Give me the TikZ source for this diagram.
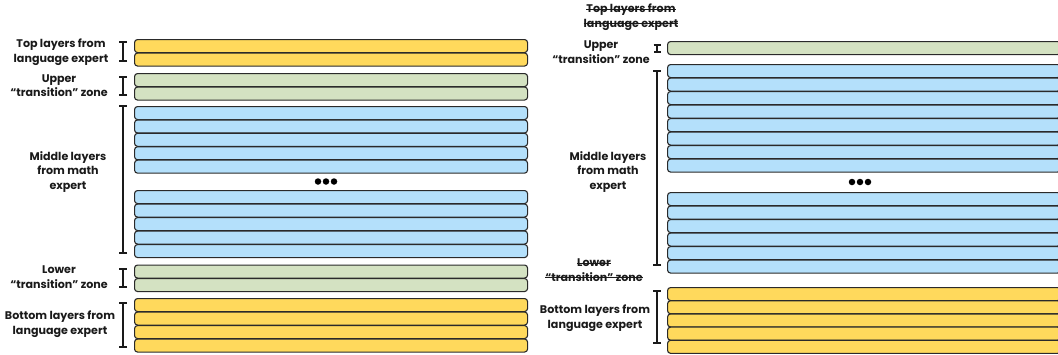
\documentclass[tikz,border=0pt]{standalone}
\usepackage{fontspec}
\setmainfont{Poppins}
\newcommand\strk[1]{\setbox0\hbox{#1}\rlap{\rule[0.24em]{\wd0}{1.3pt}}\box0}
\usetikzlibrary{arrows.meta}
\definecolor{ylw}{HTML}{FFD95C}
\definecolor{grn}{HTML}{D4E2C2}
\definecolor{blu}{HTML}{B4E0FB}
\definecolor{edgec}{HTML}{2A2A2A}
\definecolor{ink}{HTML}{1A1A1A}
\tikzset{
  layerbar/.style={draw=edgec, line width=1.1pt, rounded corners=3pt, inner sep=0pt,
    minimum width=393pt, minimum height=13pt, anchor=north west},
  lbl/.style={font=\bfseries\fontsize{11.1}{14.5}\selectfont, align=center, text=ink, inner sep=0pt},
  brk/.style={draw=ink, line width=1.7pt, {Bar[width=8pt,line width=1.7pt]}-{Bar[width=8pt,line width=1.7pt]}},
  smallbrk/.style={draw=ink, line width=1.7pt, {Bar[width=7pt,line width=1.7pt]}-{Bar[width=7pt,line width=1.7pt]}},
  dotn/.style={circle, fill=black, inner sep=0pt, minimum size=6.5pt}
}
\begin{document}
\begin{tikzpicture}[x=1pt,y=-1pt]
\useasboundingbox (0,0) rectangle (1058,354);
\clip (0,0) rectangle (1058,354);
% ---------------- left panel ----------------
\foreach \y [count=\i] in {39,52.5} {\node[layerbar, fill=ylw] (lty\i) at (134,\y) {};}
\foreach \y [count=\i] in {73,86.5} {\node[layerbar, fill=grn] (lug\i) at (134,\y) {};}
\foreach \y [count=\i] in {106,119.4,132.8,146.2,159.6,190,203.5,217,230.5,244} {\node[layerbar, fill=blu] (lmb\i) at (134,\y) {};}
\foreach \y [count=\i] in {264.5,278} {\node[layerbar, fill=grn] (llg\i) at (134,\y) {};}
\foreach \y [count=\i] in {298,311.5,325,338.5} {\node[layerbar, fill=ylw] (lby\i) at (134,\y) {};}
\node[dotn] (ld1) at (318,181.5) {};
\node[dotn] (ld2) at (326,181.5) {};
\node[dotn] (ld3) at (334,181.5) {};
% brackets
\coordinate (lb1t) at (123,41);  \coordinate (lb1b) at (123,62);
\coordinate (lb2t) at (123,76);  \coordinate (lb2b) at (123,96);
\coordinate (lb3t) at (123,105); \coordinate (lb3b) at (123,254);
\coordinate (lb4t) at (123,268); \coordinate (lb4b) at (123,288);
\coordinate (lb5t) at (123,302); \coordinate (lb5b) at (123,348);
\draw[brk] (lb1t) -- (lb1b);
\draw[brk] (lb2t) -- (lb2b);
\draw[brk] (lb3t) -- (lb3b);
\draw[brk] (lb4t) -- (lb4b);
\draw[brk] (lb5t) -- (lb5b);
% labels
\node[lbl] (lt1) at (61,52) {Top layers from\\language expert};
\node[lbl] (lt2) at (59,85.5) {Upper\\“transition” zone};
\node[lbl] (lt3) at (68,172) {Middle layers\\from math\\expert};
\node[lbl] (lt4) at (59,277) {Lower\\“transition” zone};
\node[lbl] (lt5) at (60,324) {Bottom layers from\\language expert};
% ---------------- right panel ----------------
\node[layerbar, fill=grn] (rug1) at (667,41) {};
\foreach \y [count=\i] in {64,77.5,91,104.5,118,131.5,145,158.5,192,205.5,219,232.5,246,259.5} {\node[layerbar, fill=blu] (rmb\i) at (667,\y) {};}
\foreach \y [count=\i] in {287,300.2,313.4,326.6,339.8} {\node[layerbar, fill=ylw] (rby\i) at (667,\y) {};}
\node[dotn] (rd1) at (852,182) {};
\node[dotn] (rd2) at (860,182) {};
\node[dotn] (rd3) at (868,182) {};
\coordinate (rb1t) at (657,44);  \coordinate (rb1b) at (657,53);
\coordinate (rb2t) at (657,70);  \coordinate (rb2b) at (657,266);
\coordinate (rb3t) at (657,290); \coordinate (rb3b) at (657,344);
\draw[smallbrk] (rb1t) -- (rb1b);
\draw[brk] (rb2t) -- (rb2b);
\draw[brk] (rb3t) -- (rb3b);
\node[lbl] (rt1) at (631,17) {\strk{Top layers from}\\\strk{language expert}};
\node[lbl] (rt2) at (601,52) {Upper\\“transition” zone};
\node[lbl] (rt3) at (608,172) {Middle layers\\from math\\expert};
\node[lbl] (rt4) at (594,270) {\strk{Lower}\\\strk{“transition” zone}};
\node[lbl] (rt5) at (595,318) {Bottom layers from\\language expert};
\end{tikzpicture}
\end{document}
